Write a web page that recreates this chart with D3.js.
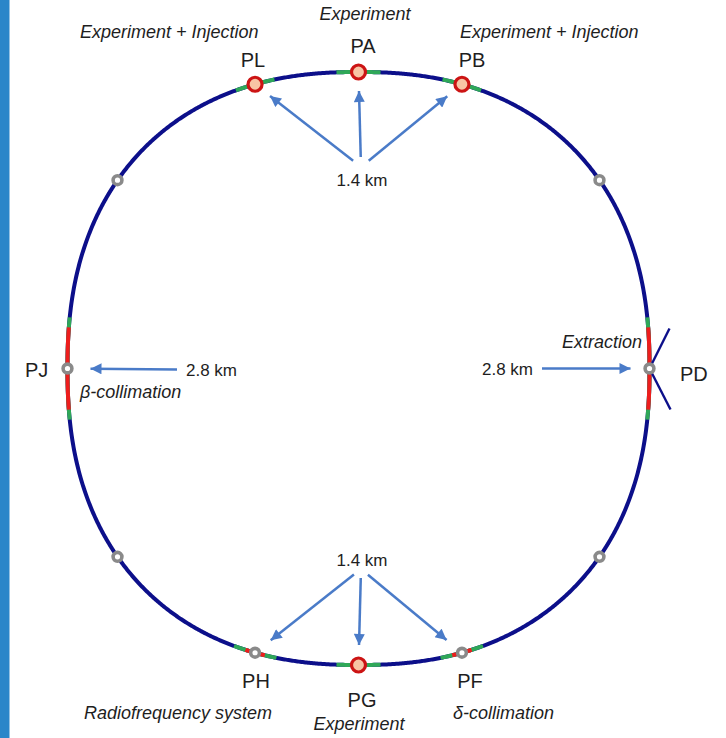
<!DOCTYPE html>
<html><head><meta charset="utf-8">
<script src="https://cdn.jsdelivr.net/npm/d3@7"></script>
<style>
html,body{margin:0;padding:0;background:#fff;}
svg{display:block;}
text{font-family:"Liberation Sans",Arial,Helvetica,sans-serif;fill:#1e1e1e;}
</style></head>
<body>
<svg id="chart" width="726" height="738"></svg>
<script>
// ---- data ----
const stationNames   = ["PA","PB","PD","PF","PG","PH","PJ","PL"];
const stationAngles  = [90, 70, 0, 290, 270, 250, 180, 110];      // polar angle (deg) around ring
const stationKinds   = ["exp","exp","pt","pt","exp","pt","pt","exp"];
const greenHalfLen   = [22, 20, 51, 22, 22, 22, 51, 20];          // px along ring
const redHalfLen     = [0, 0, 41, 10, 0, 10, 41, 0];
const minorAngles    = [38, 142, 218, 322];
const stationRoles   = ["Experiment","Experiment + Injection","Extraction","δ-collimation","Experiment","Radiofrequency system","β-collimation","Experiment + Injection"];
const distLabels     = ["1.4 km","1.4 km","2.8 km","2.8 km"];
const distTargets    = [["PL","PA","PB"],["PH","PG","PF"],["PJ"],["PD"]];

// ---- layout ----
const W = 726, H = 738;
const cx = 358.5, cy = 368.5, A = 291, B = 296.5, N = 2.3;
const svg = d3.select("#chart");
const x = d3.scaleLinear().domain([-1,1]).range([cx - A, cx + A]);
const y = d3.scaleLinear().domain([-1,1]).range([cy + B, cy - B]);

function ringPoint(deg){
  const t = deg * Math.PI/180, c = Math.cos(t), s = Math.sin(t);
  const r = Math.pow(Math.pow(Math.abs(c/A),N) + Math.pow(Math.abs(s/B),N), -1/N);
  return [x(r*c/A), y(r*s/B), r];
}
function arcPts(d0,d1){
  const pts=[], n=Math.max(4,Math.ceil(Math.abs(d1-d0)*4));
  for(let i=0;i<=n;i++) pts.push(ringPoint(d0+(d1-d0)*i/n));
  return pts;
}
const line = d3.line().x(d=>d[0]).y(d=>d[1]);

// left accent bar
svg.append("rect").attr("x",0).attr("y",0).attr("width",9.5).attr("height",H).attr("fill","#2a86c9");

const colBlue="#0c0f8a", colGreen="#2fa858", colRed="#ee1d1d", colArrow="#4a7bc8";

// ring
svg.append("path").attr("d", line(arcPts(0,360))+"Z").attr("fill","none")
  .attr("stroke",colBlue).attr("stroke-width",4);

// coloured segments
const stations = stationNames.map((n,i)=>({name:n, ang:stationAngles[i], kind:stationKinds[i], g:greenHalfLen[i], r:redHalfLen[i], pos:ringPoint(stationAngles[i])}));
const stByName = Object.fromEntries(stations.map(s=>[s.name,s]));
stations.forEach(s=>{
  const toDeg = L => L / s.pos[2] * 180/Math.PI;
  svg.append("path").attr("d", line(arcPts(s.ang-toDeg(s.g), s.ang+toDeg(s.g))))
    .attr("fill","none").attr("stroke",colGreen).attr("stroke-width",4);
  if(s.r>0){
    svg.append("path").attr("d", line(arcPts(s.ang-toDeg(s.r), s.ang+toDeg(s.r))))
      .attr("fill","none").attr("stroke",colRed).attr("stroke-width",4);
  }
});

// extraction lines at PD
const pd = stByName["PD"].pos;
[[20,-40],[21,41]].forEach(o=>{
  svg.append("line").attr("x1",pd[0]).attr("y1",pd[1]).attr("x2",pd[0]+o[0]).attr("y2",pd[1]+o[1])
    .attr("stroke",colBlue).attr("stroke-width",2.4);
});

// markers
function minorMarker(p){
  svg.append("circle").attr("cx",p[0]).attr("cy",p[1]).attr("r",4.4)
    .attr("fill","#fff").attr("stroke","#8a8a8a").attr("stroke-width",3.6);
}
minorAngles.forEach(a=>minorMarker(ringPoint(a)));
stations.forEach(s=>{
  if(s.kind==="exp"){
    svg.append("circle").attr("cx",s.pos[0]).attr("cy",s.pos[1]).attr("r",7)
      .attr("fill","#f8c4a4").attr("stroke","#cc1414").attr("stroke-width",3.2);
  } else minorMarker(s.pos);
});

// arrows
svg.append("defs").append("marker").attr("id","ah").attr("viewBox","0 0 10 10")
  .attr("refX",10).attr("refY",5).attr("markerWidth",12).attr("markerHeight",11)
  .attr("markerUnits","userSpaceOnUse").attr("orient","auto")
  .append("path").attr("d","M0,0L10,5L0,10Z").attr("fill",colArrow);

const distLayout = [
  {tx:362, ty:186, anchor:"middle", ox:361, oy:167, g0:10, g1:19},
  {tx:362, ty:566, anchor:"middle", ox:361, oy:569, g0:9, g1:20},
  {tx:186, ty:376, anchor:"start",  ox:186, oy:369.5, g0:9, g1:23},
  {tx:533, ty:375, anchor:"end",    ox:533, oy:368.5, g0:9, g1:19}
];
distLabels.forEach((lab,i)=>{
  const L = distLayout[i];
  svg.append("text").attr("x",L.tx).attr("y",L.ty).attr("text-anchor",L.anchor)
    .attr("font-size",17).text(lab);
  distTargets[i].forEach(n=>{
    const p = stByName[n].pos;
    const dx=p[0]-L.ox, dy=p[1]-L.oy, d=Math.hypot(dx,dy), ux=dx/d, uy=dy/d;
    svg.append("line").attr("x1",L.ox+ux*L.g0).attr("y1",L.oy+uy*L.g0)
      .attr("x2",p[0]-ux*L.g1).attr("y2",p[1]-uy*L.g1)
      .attr("stroke",colArrow).attr("stroke-width",2.5).attr("marker-end","url(#ah)");
  });
});

// station names
const nameLayout = {
  PA:[363,53,"middle"], PB:[472,67,"middle"], PL:[253,67,"middle"],
  PJ:[25,377,"start"], PD:[680,381,"start"],
  PH:[256,688,"middle"], PG:[362,707,"middle"], PF:[470,688,"middle"]
};
stations.forEach(s=>{
  const L = nameLayout[s.name];
  svg.append("text").attr("x",L[0]).attr("y",L[1]).attr("text-anchor",L[2])
    .attr("font-size",20).text(s.name);
});

// role labels
const roleLayout = {
  PA:[365,20,"middle"], PB:[460,38,"start"], PL:[80,38,"start"],
  PD:[642,348,"end"], PJ:[80,398,"start"],
  PF:[453,719,"start"], PG:[359,730,"middle"], PH:[84,719,"start"]
};
stations.forEach((s,i)=>{
  const L = roleLayout[s.name];
  svg.append("text").attr("x",L[0]).attr("y",L[1]).attr("text-anchor",L[2])
    .attr("font-size",18).attr("font-style","italic").text(stationRoles[i]);
});
</script>
</body></html>
